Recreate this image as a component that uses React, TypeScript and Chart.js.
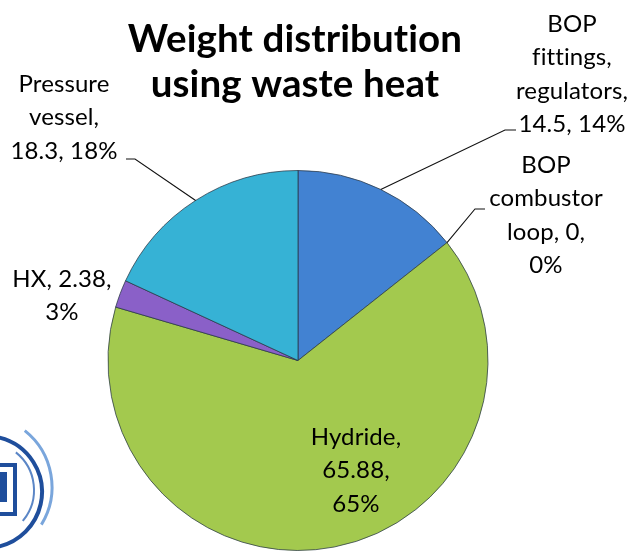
import React, { useEffect, useRef } from "react";
import { Chart, registerables } from "chart.js";

Chart.register(...registerables);

const categories = ["BOP fittings, regulators", "BOP combustor loop", "Hydride", "HX", "Pressure vessel"];
const weights = [14.5, 0, 65.88, 2.38, 18.3];
const percents = [14, 0, 65, 3, 18];
const sliceColors = ["#4282d2", "#8fb840", "#a3c94e", "#8a60c8", "#36b2d5"];
const titleLines = ["Weight distribution", "using waste heat"];
const labelLines = [
  ["BOP", "fittings,", "regulators,", "14.5, 14%"],
  ["BOP", "combustor", "loop, 0,", "0%"],
  ["Hydride,", "65.88,", "65%"],
  ["HX, 2.38,", "3%"],
  ["Pressure", "vessel,", "18.3, 18%"],
];

// label layout: centre x, first baseline y, leader elbow
const labelLayout = [
  { x: 572, y: 32, leader: { ex: 505, ey: 130, hx: 516 } },
  { x: 546, y: 173, leader: { ex: 475, ey: 209, hx: 485 } },
  { x: 356, y: 445, leader: null },
  { x: 62, y: 287, leader: null },
  { x: 64, y: 92, leader: { ex: 135, ey: 159, hx: 126 } },
];

const LABEL_FONT = "24px Lato, 'Open Sans', sans-serif";
const TITLE_FONT = "bold 38.5px Lato, 'Open Sans', sans-serif";
const LINE_H = 33.3;

const labelPlugin = {
  id: "pieLabels",
  afterDraw(chart: any) {
    const ctx = chart.ctx as any;
    const meta = chart.getDatasetMeta(0);
    ctx.save();
    ctx.letterSpacing = "0.1px";
    // title
    ctx.fillStyle = "#000";
    ctx.textAlign = "center";
    ctx.textBaseline = "alphabetic";
    ctx.font = TITLE_FONT;
    titleLines.forEach((t, i) => ctx.fillText(t, 295, 52 + i * 45));

    // leaders
    ctx.strokeStyle = "#111";
    ctx.lineWidth = 1.1;
    meta.data.forEach((arc: any, i: number) => {
      const lay = labelLayout[i];
      if (!lay.leader) return;
      const mid = (arc.startAngle + arc.endAngle) / 2;
      const ax = arc.x + Math.cos(mid) * arc.outerRadius;
      const ay = arc.y + Math.sin(mid) * arc.outerRadius;
      ctx.beginPath();
      ctx.moveTo(ax, ay);
      ctx.lineTo(lay.leader.ex, lay.leader.ey);
      ctx.lineTo(lay.leader.hx, lay.leader.ey);
      ctx.stroke();
    });

    // labels
    ctx.font = LABEL_FONT;
    ctx.fillStyle = "#000";
    labelLines.forEach((lines, i) => {
      const lay = labelLayout[i];
      lines.forEach((l, j) => ctx.fillText(l, lay.x, lay.y + j * LINE_H));
    });

    // logo (partial emblem in bottom-left corner)
    ctx.lineCap = "butt";
    ctx.strokeStyle = "#7aa6dc";
    ctx.lineWidth = 3;
    ctx.beginPath();
    ctx.arc(-20, 487, 72, -0.9, 0.55);
    ctx.stroke();
    ctx.strokeStyle = "#1f4e9c";
    ctx.lineWidth = 4;
    ctx.beginPath();
    ctx.arc(-14, 492, 56, -1.35, 1.35);
    ctx.stroke();
    ctx.strokeStyle = "#5b86c6";
    ctx.lineWidth = 2;
    ctx.beginPath();
    ctx.arc(-14, 490, 48, -0.9, 0.7);
    ctx.stroke();
    ctx.strokeStyle = "#1f4e9c";
    ctx.lineWidth = 4;
    ctx.beginPath();
    ctx.moveTo(0, 465);
    ctx.lineTo(15, 465);
    ctx.lineTo(15, 514);
    ctx.lineTo(0, 514);
    ctx.stroke();
    ctx.fillStyle = "#1f4e9c";
    ctx.fillRect(0, 472, 7, 30);
    ctx.restore();
  },
};

export default function App() {
  const ref = useRef<HTMLCanvasElement | null>(null);
  useEffect(() => {
    if (!ref.current) return;
    const chart = new Chart(ref.current, {
      type: "pie",
      data: {
        labels: categories,
        datasets: [
          {
            data: weights,
            backgroundColor: sliceColors,
            borderColor: "rgba(40,55,70,0.75)",
            borderWidth: 1,
          },
        ],
      },
      options: {
        responsive: false,
        animation: false,
        devicePixelRatio: 1,
        layout: { padding: { top: 170, bottom: 4, left: 0, right: 48 } },
        plugins: {
          legend: { display: false },
          tooltip: { enabled: false },
          title: { display: false },
        },
      },
      plugins: [labelPlugin],
    });
    return () => chart.destroy();
  }, []);
  return (
    <div style={{ position: "absolute", left: 0, top: 0, width: 644, height: 555, background: "#fff" }}>
      <canvas ref={ref} width={644} height={555} />
    </div>
  );
}
